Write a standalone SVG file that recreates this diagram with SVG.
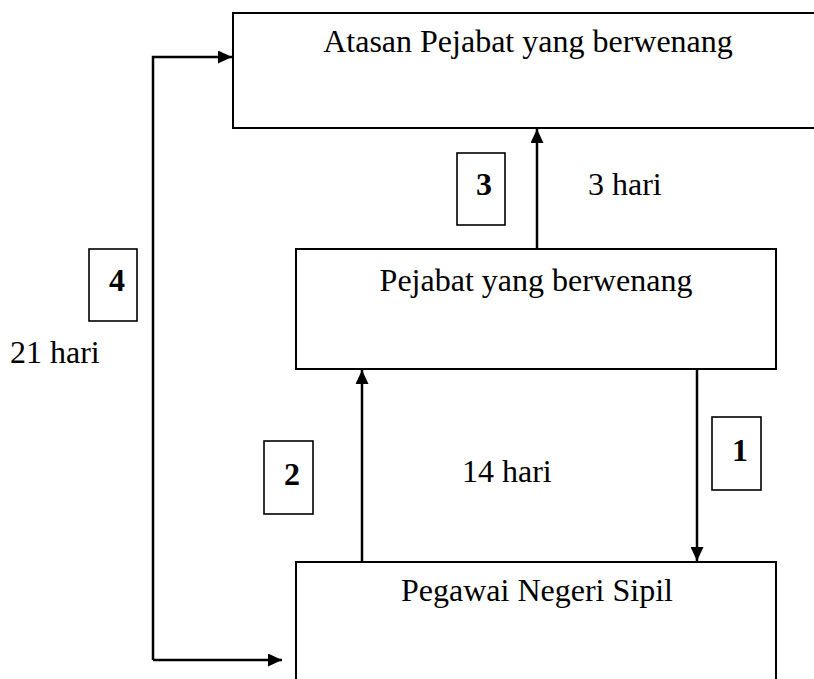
<svg xmlns="http://www.w3.org/2000/svg" width="814" height="679" viewBox="0 0 814 679">
<style>
.box{fill:#fff;stroke:#000;stroke-width:2}
.tag{fill:#fff;stroke:#000;stroke-width:1.6}
.t{font-family:"Liberation Serif","Times New Roman",serif;font-size:32px;fill:#000}
.d{font-family:"Liberation Serif","Times New Roman",serif;font-size:32px;font-weight:bold;fill:#000}
.c{fill:none;stroke:#000;stroke-width:2.5}
</style>
<defs>
<marker id="ah" viewBox="0 0 14 13" refX="14" refY="6.5" markerWidth="14" markerHeight="13" markerUnits="userSpaceOnUse" orient="auto">
<path d="M0,0 L14,6.5 L0,13 Z" fill="#000"/>
</marker>
</defs>
<rect width="814" height="679" fill="#fff"/>
<g id="atasan">
<rect class="box" x="233" y="13" width="590" height="115"/>
<text class="t" x="528" y="52" text-anchor="middle">Atasan Pejabat yang berwenang</text>
</g>
<g id="pejabat">
<rect class="box" x="296" y="249" width="480" height="120"/>
<text class="t" x="536" y="291" text-anchor="middle">Pejabat yang berwenang</text>
</g>
<g id="connectors">
<path class="c" d="M537,249 V129" marker-end="url(#ah)"/>
<path class="c" d="M362,562 V370" marker-end="url(#ah)"/>
<path class="c" d="M697,369 V561" marker-end="url(#ah)"/>
<path class="c" d="M153,660 V57 H232" marker-end="url(#ah)"/>
<path class="c" d="M153,660 H282" marker-end="url(#ah)"/>
</g>
<g id="pns">
<rect class="box" x="296" y="562" width="480" height="130"/>
<text class="t" x="537" y="601" text-anchor="middle">Pegawai Negeri Sipil</text>
</g>
<g id="step3">
<rect class="tag" x="457" y="153" width="48" height="72"/>
<text class="d" x="484" y="195" text-anchor="middle">3</text>
<text class="t" x="588" y="195">3 hari</text>
</g>
<g id="step4">
<rect class="tag" x="89" y="249" width="48" height="72"/>
<text class="d" x="117" y="291" text-anchor="middle">4</text>
<text class="t" x="10" y="363">21 hari</text>
</g>
<g id="step2">
<rect class="tag" x="264" y="441" width="49" height="73"/>
<text class="d" x="292" y="485" text-anchor="middle">2</text>
<text class="t" x="462" y="482">14 hari</text>
</g>
<g id="step1">
<rect class="tag" x="712" y="417" width="49" height="73"/>
<text class="d" x="740" y="461" text-anchor="middle">1</text>
</g>
</svg>
